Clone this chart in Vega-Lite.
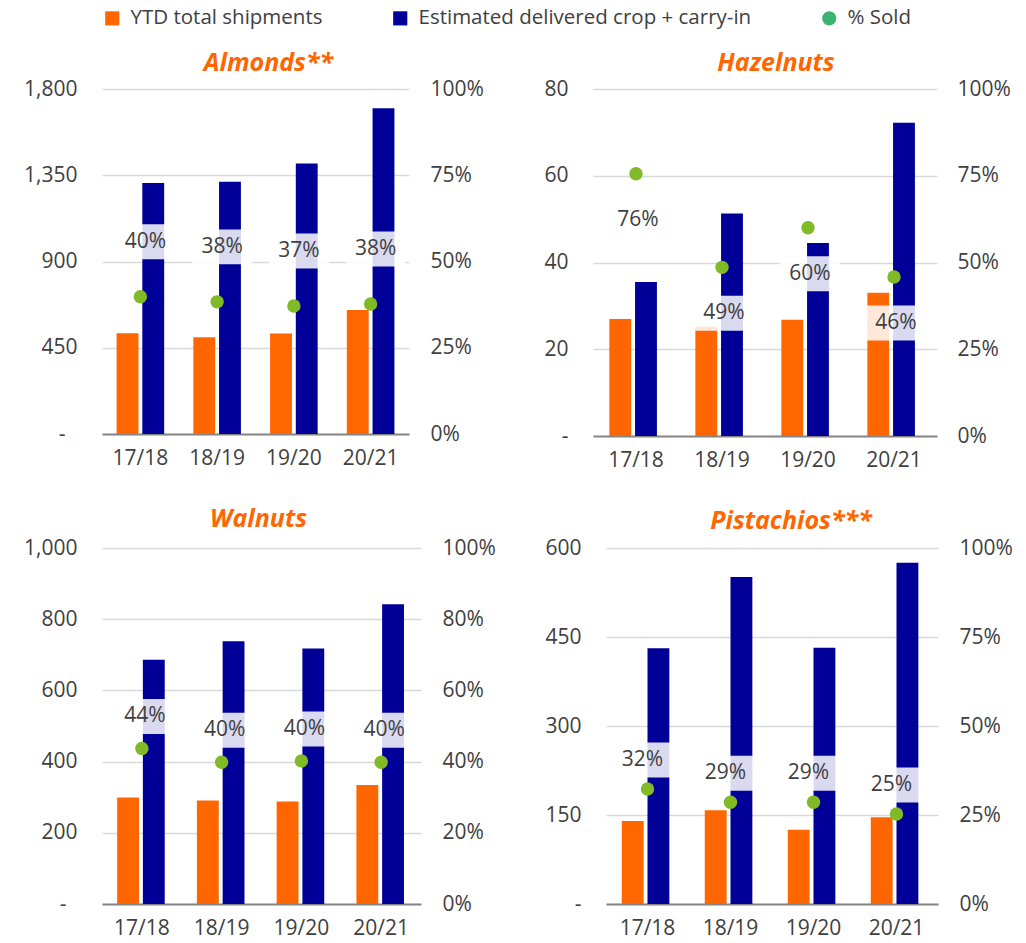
{
  "$schema": "https://vega.github.io/schema/vega-lite/v6.json",
  "padding": {"left": 23, "top": 8, "right": 10, "bottom": 1},
  "background": "white",
  "datasets": {
    "nuts": [
      {"nut": "Almonds", "year": "17/18", "shipments": 526, "supply": 1310, "sold": 0.398},
      {"nut": "Almonds", "year": "18/19", "shipments": 505, "supply": 1316, "sold": 0.383},
      {"nut": "Almonds", "year": "19/20", "shipments": 525, "supply": 1411, "sold": 0.371},
      {"nut": "Almonds", "year": "20/21", "shipments": 647, "supply": 1700, "sold": 0.377},
      {"nut": "Hazelnuts", "year": "17/18", "shipments": 27.0, "supply": 35.5, "sold": 0.756},
      {"nut": "Hazelnuts", "year": "18/19", "shipments": 25.2, "supply": 51.3, "sold": 0.486},
      {"nut": "Hazelnuts", "year": "19/20", "shipments": 26.8, "supply": 44.5, "sold": 0.600},
      {"nut": "Hazelnuts", "year": "20/21", "shipments": 33.0, "supply": 72.2, "sold": 0.458},
      {"nut": "Walnuts", "year": "17/18", "shipments": 299, "supply": 686, "sold": 0.437},
      {"nut": "Walnuts", "year": "18/19", "shipments": 291, "supply": 738, "sold": 0.398},
      {"nut": "Walnuts", "year": "19/20", "shipments": 288, "supply": 718, "sold": 0.402},
      {"nut": "Walnuts", "year": "20/21", "shipments": 334, "supply": 842, "sold": 0.398},
      {"nut": "Pistachios", "year": "17/18", "shipments": 140, "supply": 431, "sold": 0.323},
      {"nut": "Pistachios", "year": "18/19", "shipments": 158, "supply": 551, "sold": 0.286},
      {"nut": "Pistachios", "year": "19/20", "shipments": 125, "supply": 432, "sold": 0.286},
      {"nut": "Pistachios", "year": "20/21", "shipments": 146, "supply": 575, "sold": 0.253}
    ]
  },
  "data": {"name": "nuts"},
  "spacing": 37,
  "vconcat": [
    {
      "hconcat": [
        {
          "width": 307, "height": 345,
          "title": {"text": "Almonds**", "dx": 13, "offset": 2},
          "transform": [{"filter": "datum.nut === 'Almonds'"}],
          "encoding": {"x": {"field": "year", "type": "nominal", "title": null, "scale": {"paddingInner": 0.38, "paddingOuter": 0.19}}},
          "layer": [
            {
              "transform": [{"fold": ["shipments", "supply"]}],
              "mark": {"type": "bar"},
              "encoding": {
                "xOffset": {"field": "key", "type": "nominal", "scale": {"domain": ["shipments", "supply"], "paddingInner": 0.15}},
                "y": {"field": "value", "type": "quantitative", "title": null, "scale": {"domain": [0, 1800], "nice": false}, "axis": {"orient": "left", "values": [0, 450, 900, 1350, 1800], "labelExpr": "datum.value === 0 ? '-' : format(datum.value, ',')", "labelPadding": {"condition": {"test": "datum.value === 0", "value": 37}, "value": 25}, "grid": true}},
                "color": {"field": "key", "type": "nominal", "scale": {"domain": ["shipments", "supply", "sold"], "range": ["#FF6600", "#000099", "#3CB371"]}, "legend": {"labelExpr": "datum.label === 'shipments' ? 'YTD total shipments' : datum.label === 'supply' ? 'Estimated delivered crop + carry-in' : '% Sold'"}}
              }
            },
            {
              "mark": {"type": "point", "filled": true, "color": "#80BA27", "size": 180, "opacity": 1},
              "encoding": {
                "y": {"field": "sold", "type": "quantitative", "title": null, "scale": {"domain": [0, 1], "nice": false}, "axis": {"orient": "right", "values": [0, 0.25, 0.5, 0.75, 1], "format": ".0%", "grid": false, "labelPadding": 21}},
                "shape": {"datum": "sold", "type": "nominal", "scale": {"domain": ["shipments", "supply", "sold"], "range": ["square", "square", "circle"]}, "legend": {"labelExpr": "datum.label === 'shipments' ? 'YTD total shipments' : datum.label === 'supply' ? 'Estimated delivered crop + carry-in' : '% Sold'"}}
              }
            },
            {
              "mark": {"type": "point", "filled": true, "shape": "M-1,-0.583H1V0.583H-1Z", "size": 3600, "color": "white", "opacity": 0.85, "strokeWidth": 0, "yOffset": -55, "xOffset": 5},
              "encoding": {"y": {"field": "sold", "type": "quantitative", "scale": {"domain": [0, 1], "nice": false}, "axis": null}}
            },
            {
              "mark": {"type": "text", "fontSize": 21, "color": "#404040", "baseline": "middle", "yOffset": -55, "xOffset": 5},
              "encoding": {"y": {"field": "sold", "type": "quantitative", "scale": {"domain": [0, 1], "nice": false}, "axis": null}, "text": {"field": "sold", "format": ".0%"}}
            }
          ],
          "resolve": {"scale": {"y": "independent"}}
        },
        {
          "width": 344, "height": 347,
          "title": {"text": "Hazelnuts", "dx": 11, "offset": 2},
          "transform": [{"filter": "datum.nut === 'Hazelnuts'"}],
          "encoding": {"x": {"field": "year", "type": "nominal", "title": null, "scale": {"paddingInner": 0.38, "paddingOuter": 0.19}}},
          "layer": [
            {
              "transform": [{"fold": ["shipments", "supply"]}],
              "mark": {"type": "bar"},
              "encoding": {
                "xOffset": {"field": "key", "type": "nominal", "scale": {"domain": ["shipments", "supply"], "paddingInner": 0.15}},
                "y": {"field": "value", "type": "quantitative", "title": null, "scale": {"domain": [0, 80], "nice": false}, "axis": {"orient": "left", "values": [0, 20, 40, 60, 80], "labelExpr": "datum.value === 0 ? '-' : format(datum.value, ',')", "grid": true}},
                "color": {"field": "key", "type": "nominal", "scale": {"domain": ["shipments", "supply", "sold"], "range": ["#FF6600", "#000099", "#3CB371"]}, "legend": {"labelExpr": "datum.label === 'shipments' ? 'YTD total shipments' : datum.label === 'supply' ? 'Estimated delivered crop + carry-in' : '% Sold'"}}
              }
            },
            {
              "mark": {"type": "point", "filled": true, "color": "#80BA27", "size": 180, "opacity": 1},
              "encoding": {
                "y": {"field": "sold", "type": "quantitative", "title": null, "scale": {"domain": [0, 1], "nice": false}, "axis": {"orient": "right", "values": [0, 0.25, 0.5, 0.75, 1], "format": ".0%", "grid": false, "labelPadding": 20}},
                "shape": {"datum": "sold", "type": "nominal", "scale": {"domain": ["shipments", "supply", "sold"], "range": ["square", "square", "circle"]}, "legend": {"labelExpr": "datum.label === 'shipments' ? 'YTD total shipments' : datum.label === 'supply' ? 'Estimated delivered crop + carry-in' : '% Sold'"}}
              }
            },
            {
              "mark": {"type": "point", "filled": true, "shape": "M-1,-0.583H1V0.583H-1Z", "size": 3600, "color": "white", "opacity": 0.85, "strokeWidth": 0, "yOffset": 46, "xOffset": 2},
              "encoding": {"y": {"field": "sold", "type": "quantitative", "scale": {"domain": [0, 1], "nice": false}, "axis": null}}
            },
            {
              "mark": {"type": "text", "fontSize": 21, "color": "#404040", "baseline": "middle", "yOffset": 46, "xOffset": 2},
              "encoding": {"y": {"field": "sold", "type": "quantitative", "scale": {"domain": [0, 1], "nice": false}, "axis": null}, "text": {"field": "sold", "format": ".0%"}}
            }
          ],
          "resolve": {"scale": {"y": "independent"}}
        }
      ],
      "spacing": 59
    },
    {
      "hconcat": [
        {
          "width": 319, "height": 356,
          "title": {"text": "Walnuts", "dx": -3, "offset": 5},
          "transform": [{"filter": "datum.nut === 'Walnuts'"}],
          "encoding": {"x": {"field": "year", "type": "nominal", "title": null, "scale": {"paddingInner": 0.38, "paddingOuter": 0.19}}},
          "layer": [
            {
              "transform": [{"fold": ["shipments", "supply"]}],
              "mark": {"type": "bar"},
              "encoding": {
                "xOffset": {"field": "key", "type": "nominal", "scale": {"domain": ["shipments", "supply"], "paddingInner": 0.15}},
                "y": {"field": "value", "type": "quantitative", "title": null, "scale": {"domain": [0, 1000], "nice": false}, "axis": {"orient": "left", "values": [0, 200, 400, 600, 800, 1000], "labelExpr": "datum.value === 0 ? '-' : format(datum.value, ',')", "labelPadding": {"condition": {"test": "datum.value === 0", "value": 36}, "value": 25}, "grid": true}},
                "color": {"field": "key", "type": "nominal", "scale": {"domain": ["shipments", "supply", "sold"], "range": ["#FF6600", "#000099", "#3CB371"]}, "legend": {"labelExpr": "datum.label === 'shipments' ? 'YTD total shipments' : datum.label === 'supply' ? 'Estimated delivered crop + carry-in' : '% Sold'"}}
              }
            },
            {
              "mark": {"type": "point", "filled": true, "color": "#80BA27", "size": 180, "opacity": 1},
              "encoding": {
                "y": {"field": "sold", "type": "quantitative", "title": null, "scale": {"domain": [0, 1], "nice": false}, "axis": {"orient": "right", "values": [0, 0.2, 0.4, 0.6, 0.8, 1], "format": ".0%", "grid": false, "labelPadding": 21}},
                "shape": {"datum": "sold", "type": "nominal", "scale": {"domain": ["shipments", "supply", "sold"], "range": ["square", "square", "circle"]}, "legend": {"labelExpr": "datum.label === 'shipments' ? 'YTD total shipments' : datum.label === 'supply' ? 'Estimated delivered crop + carry-in' : '% Sold'"}}
              }
            },
            {
              "mark": {"type": "point", "filled": true, "shape": "M-1,-0.583H1V0.583H-1Z", "size": 3600, "color": "white", "opacity": 0.85, "strokeWidth": 0, "yOffset": -32, "xOffset": 3},
              "encoding": {"y": {"field": "sold", "type": "quantitative", "scale": {"domain": [0, 1], "nice": false}, "axis": null}}
            },
            {
              "mark": {"type": "text", "fontSize": 21, "color": "#404040", "baseline": "middle", "yOffset": -32, "xOffset": 3},
              "encoding": {"y": {"field": "sold", "type": "quantitative", "scale": {"domain": [0, 1], "nice": false}, "axis": null}, "text": {"field": "sold", "format": ".0%"}}
            }
          ],
          "resolve": {"scale": {"y": "independent"}}
        },
        {
          "width": 332, "height": 356,
          "title": {"text": "Pistachios***", "dx": 19, "offset": 3},
          "transform": [{"filter": "datum.nut === 'Pistachios'"}],
          "encoding": {"x": {"field": "year", "type": "nominal", "title": null, "scale": {"paddingInner": 0.38, "paddingOuter": 0.19}}},
          "layer": [
            {
              "transform": [{"fold": ["shipments", "supply"]}],
              "mark": {"type": "bar"},
              "encoding": {
                "xOffset": {"field": "key", "type": "nominal", "scale": {"domain": ["shipments", "supply"], "paddingInner": 0.15}},
                "y": {"field": "value", "type": "quantitative", "title": null, "scale": {"domain": [0, 600], "nice": false}, "axis": {"orient": "left", "values": [0, 150, 300, 450, 600], "labelExpr": "datum.value === 0 ? '-' : format(datum.value, ',')", "grid": true}},
                "color": {"field": "key", "type": "nominal", "scale": {"domain": ["shipments", "supply", "sold"], "range": ["#FF6600", "#000099", "#3CB371"]}, "legend": {"labelExpr": "datum.label === 'shipments' ? 'YTD total shipments' : datum.label === 'supply' ? 'Estimated delivered crop + carry-in' : '% Sold'"}}
              }
            },
            {
              "mark": {"type": "point", "filled": true, "color": "#80BA27", "size": 180, "opacity": 1},
              "encoding": {
                "y": {"field": "sold", "type": "quantitative", "title": null, "scale": {"domain": [0, 1], "nice": false}, "axis": {"orient": "right", "values": [0, 0.25, 0.5, 0.75, 1], "format": ".0%", "grid": false, "labelPadding": 21}},
                "shape": {"datum": "sold", "type": "nominal", "scale": {"domain": ["shipments", "supply", "sold"], "range": ["square", "square", "circle"]}, "legend": {"labelExpr": "datum.label === 'shipments' ? 'YTD total shipments' : datum.label === 'supply' ? 'Estimated delivered crop + carry-in' : '% Sold'"}}
              }
            },
            {
              "mark": {"type": "point", "filled": true, "shape": "M-1,-0.583H1V0.583H-1Z", "size": 3600, "color": "white", "opacity": 0.85, "strokeWidth": 0, "yOffset": -29, "xOffset": -5},
              "encoding": {"y": {"field": "sold", "type": "quantitative", "scale": {"domain": [0, 1], "nice": false}, "axis": null}}
            },
            {
              "mark": {"type": "text", "fontSize": 21, "color": "#404040", "baseline": "middle", "yOffset": -29, "xOffset": -5},
              "encoding": {"y": {"field": "sold", "type": "quantitative", "scale": {"domain": [0, 1], "nice": false}, "axis": null}, "text": {"field": "sold", "format": ".0%"}}
            }
          ],
          "resolve": {"scale": {"y": "independent"}}
        }
      ],
      "spacing": 48
    }
  ],
  "config": {
    "font": "Open Sans",
    "view": {"stroke": null},
    "title": {"fontSize": 25, "fontStyle": "italic", "fontWeight": "bold", "color": "#FF6600", "anchor": "middle", "frame": "group"},
    "axis": {"labelFontSize": 21, "labelColor": "#404040", "labelFont": "Open Sans", "domain": false, "ticks": false, "gridColor": "#D9D9D9", "gridWidth": 1.5},
    "axisY": {"labelPadding": 25},
    "axisX": {"labelAngle": 0, "domain": true, "domainColor": "#868686", "domainWidth": 2, "labelPadding": 13},
    "legend": {
      "orient": "top",
      "direction": "horizontal",
      "title": null,
      "offset": 22,
      "labelFontSize": 20.5,
      "labelLimit": 500,
      "labelOffset": 8,
      "labelColor": "#404040",
      "labelFont": "Open Sans",
      "symbolSize": 200,
      "symbolStrokeWidth": 0,
      "columnPadding": 67
    }
  }
}
